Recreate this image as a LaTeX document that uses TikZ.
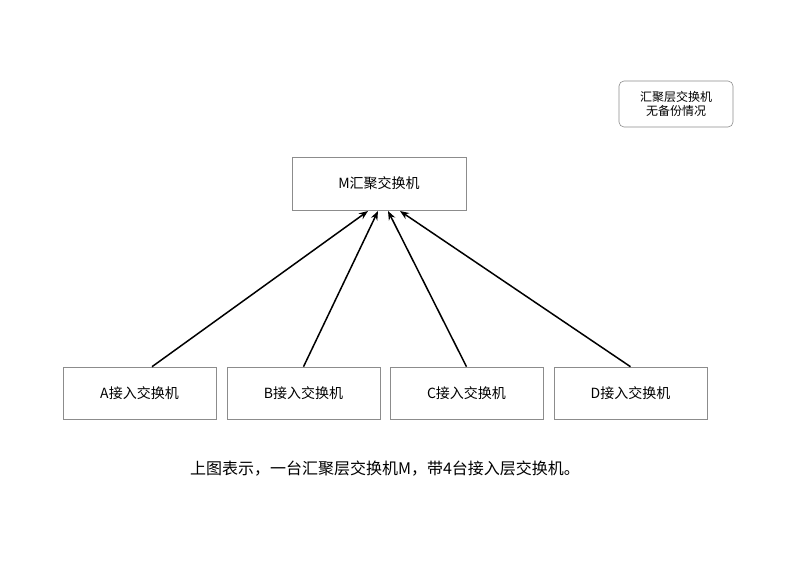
\documentclass[tikz,border=0pt]{standalone}
\usepackage{fontspec}
\setmainfont{Noto Sans CJK SC}
\usetikzlibrary{arrows.meta}
\begin{document}
\begin{tikzpicture}[x=1pt,y=-1pt,
  box/.style={draw=black!45,line width=0.6pt,minimum width=153pt,minimum height=52pt,inner sep=0pt,font=\fontsize{14}{16}\selectfont},
  arr/.style={-{Stealth[length=9pt,width=7pt]},line width=1.5pt}]
\useasboundingbox (0,0) rectangle (800,566);
\node[box,minimum width=174pt,minimum height=53pt] (M) at (379,183.5) {M汇聚交换机};
\node[box] (A) at (139.5,393) {A接入交换机};
\node[box] (B) at (303.5,393) {B接入交换机};
\node[box] (C) at (466.5,393) {C接入交换机};
\node[box] (D) at (630.5,393) {D接入交换机};
\node[draw=black!45,rounded corners=5pt,line width=0.6pt,minimum width=114pt,minimum height=46pt,align=center,font=\fontsize{12}{14}\selectfont] (N) at (676,104) {汇聚层交换机\\无备份情况};
\coordinate (ma) at (368,211);
\coordinate (mb) at (378,211);
\coordinate (mc) at (388,211);
\coordinate (md) at (400,211);
\draw[arr] (A.north -| 152,0) -- (ma);
\draw[arr] (B.north) -- (mb);
\draw[arr] (C.north) -- (mc);
\draw[arr] (D.north) -- (md);
\node[font=\fontsize{16}{18}\selectfont] (cap) at (385,469) {上图表示，一台汇聚层交换机M，带4台接入层交换机。};
\end{tikzpicture}
\end{document}
